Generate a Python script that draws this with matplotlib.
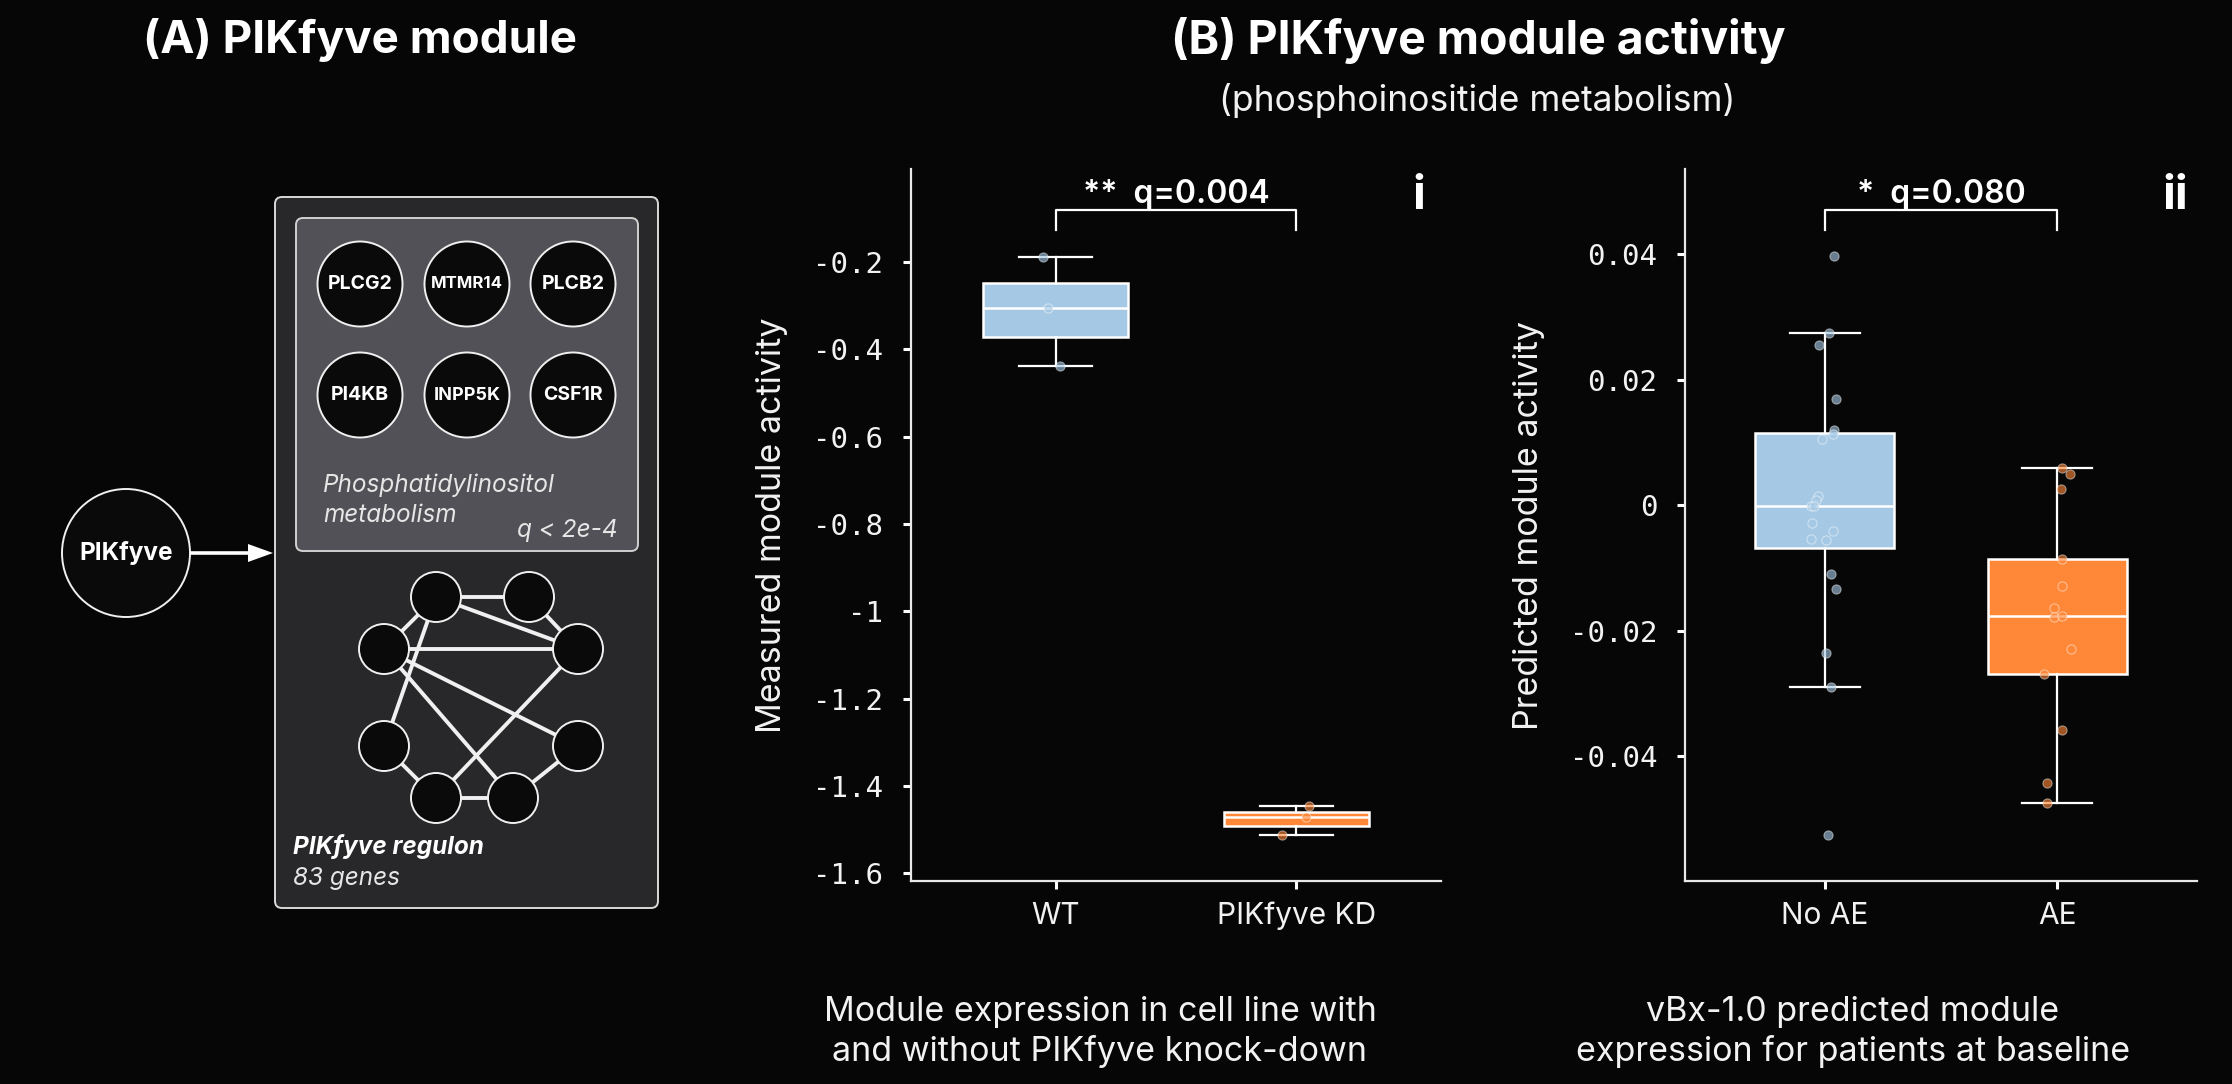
import matplotlib
matplotlib.use("Agg")
import matplotlib.pyplot as plt
from matplotlib.patches import Circle, FancyBboxPatch, Polygon
from matplotlib.ticker import FixedLocator, FuncFormatter

# ---------------- data ----------------
panel_i_categories = ["WT", "PIKfyve KD"]
wt_values = [-0.189, -0.305, -0.438]
wt_jitter = [-0.054, -0.030, 0.017]
kd_values = [-1.447, -1.471, -1.513]
kd_jitter = [0.050, 0.039, -0.060]
panel_i_ticks = [-1.6, -1.4, -1.2, -1.0, -0.8, -0.6, -0.4, -0.2]
panel_i_stat = "**  q=0.004"

panel_ii_categories = ["No AE", "AE"]
noae_values = [0.0397, 0.0275, 0.0255, 0.0169, 0.0120, 0.0113, 0.0106, 0.00147,
               0.00085, -0.0002, -0.0001, -0.00286, -0.00418, -0.00534, -0.0055,
               -0.0110, -0.0133, -0.0235, -0.0289, -0.0526]
noae_jitter = [0.042, 0.018, -0.024, 0.050, 0.042, 0.038, -0.010, -0.028,
               -0.038, -0.058, -0.046, -0.054, 0.038, -0.058, 0.006,
               0.028, 0.050, 0.006, 0.028, 0.014]
ae_values = [0.00596, 0.00503, 0.00263, -0.00851, -0.01284, -0.01640, -0.01780,
             -0.01764, -0.02298, -0.02685, -0.03575, -0.04425, -0.04743]
ae_jitter = [0.018, 0.054, 0.014, 0.018, 0.018, -0.016, -0.016,
             0.022, 0.058, -0.056, 0.022, -0.046, -0.046]
panel_ii_ticks = [-0.04, -0.02, 0.0, 0.02, 0.04]
panel_ii_stat = "*  q=0.080"

module_genes = ["PLCG2", "MTMR14", "PLCB2", "PI4KB", "INPP5K", "CSF1R"]

# ---------------- style ----------------
W, H = 2232, 1084
DPI = 100
BG = "#060606"
FG = "#f2f2f2"
BLUE = "#a5c8e4"
ORANGE = "#ff8838"
SANS = ["Inter", "DejaVu Sans"]
MONO = ["DejaVu Sans Mono"]
plt.rcParams["font.family"] = SANS
plt.rcParams["axes.unicode_minus"] = False

fig = plt.figure(figsize=(W / DPI, H / DPI), dpi=DPI, facecolor=BG)


def rect(x0, y0, x1, y1):
    return [x0 / W, 1 - y1 / H, (x1 - x0) / W, (y1 - y0) / H]


# ---------------- panel A (diagram, pixel coordinates) ----------------
axA = fig.add_axes([0, 0, 1, 1])
axA.set_xlim(0, W)
axA.set_ylim(H, 0)
axA.axis("off")
axA.set_zorder(0)

axA.add_patch(FancyBboxPatch((275, 197), 383, 711, boxstyle="round,pad=0,rounding_size=7",
                             fc="#28282a", ec="#d8d8d8", lw=1.4))
axA.add_patch(FancyBboxPatch((296, 218), 342, 333, boxstyle="round,pad=0,rounding_size=7",
                             fc="#515157", ec="#d0d0d0", lw=1.4))

gene_xy = [(360, 284), (467, 284), (573, 284), (360, 395), (467, 395), (573, 395)]
gene_fs = [14, 12, 14, 14, 13, 14]
for (cx, cy), g, fs in zip(gene_xy, module_genes, gene_fs):
    axA.add_patch(Circle((cx, cy), 42.5, fc="#0a0a0a", ec="#f0f0f0", lw=1.4))
    axA.text(cx, cy, g, color="white", fontsize=fs, fontweight="bold",
             ha="center", va="center")

axA.text(323, 485, "Phosphatidylinositol", color="#e6e6e6", fontsize=17.5,
         style="italic", ha="left", va="center")
axA.text(323, 516, "metabolism", color="#e6e6e6", fontsize=17.5,
         style="italic", ha="left", va="center")
axA.text(618, 530, "q < 2e-4", color="#e6e6e6", fontsize=17.5, style="italic",
         ha="right", va="center")

# PIKfyve node and arrow
axA.add_patch(Circle((126, 553), 64, fc="#0a0a0a", ec="#f0f0f0", lw=1.4))
axA.text(126, 553, "PIKfyve", color="white", fontsize=17.5, fontweight="bold",
         ha="center", va="center")
axA.plot([190, 250], [553, 553], color="white", lw=2.6, solid_capstyle="butt")
axA.add_patch(Polygon([[248, 544], [273, 553], [248, 562]], closed=True, fc="white", ec="none"))

# network
nodes = [(436, 597), (529, 597), (384, 649), (578, 649),
         (384, 746), (578, 746), (436, 798), (513, 798)]
edges = [(0, 1), (1, 3), (0, 3), (0, 2), (2, 3), (0, 4), (2, 5), (2, 7),
         (3, 6), (4, 6), (6, 7), (7, 5)]
for a, b in edges:
    axA.plot([nodes[a][0], nodes[b][0]], [nodes[a][1], nodes[b][1]],
             color="#f0f0f0", lw=2.8, zorder=2)
for (cx, cy) in nodes:
    axA.add_patch(Circle((cx, cy), 25, fc="#0a0a0a", ec="#f0f0f0", lw=1.4, zorder=3))

axA.text(293, 847, "PIKfyve regulon", color="white", fontsize=17.5, fontweight="bold",
         style="italic", ha="left", va="center")
axA.text(293, 879, "83 genes", color="#e6e6e6", fontsize=17.5, style="italic",
         ha="left", va="center")

# titles
fig.text(360 / W, 1 - 40 / H, "(A) PIKfyve module", color="white", fontsize=33,
         fontweight="bold", ha="center", va="center")
fig.text(1478 / W, 1 - 40 / H, "(B) PIKfyve module activity", color="white", fontsize=33.4,
         fontweight="bold", ha="center", va="center")
fig.text(1477 / W, 1 - 100 / H, "(phosphoinositide metabolism)", color=FG, fontsize=25.5,
         ha="center", va="center")


# ---------------- box panels ----------------
def fmt(v, pos):
    return "%g" % round(v, 6)


def box_panel(ax, groups, jitters, colors, cats, ticks, ylim, ylabel, label_x, stat, stat_y,
              panel_tag):
    ax.set_facecolor("none")
    bp = ax.boxplot(groups, positions=[0, 1], widths=0.6, patch_artist=True,
                    showfliers=False, whis=1.5, capwidths=0.3,
                    boxprops=dict(edgecolor="white", linewidth=1.8),
                    medianprops=dict(color="white", linewidth=1.8),
                    whiskerprops=dict(color="white", linewidth=1.6),
                    capprops=dict(color="white", linewidth=1.6))
    for patch, c in zip(bp["boxes"], colors):
        patch.set_facecolor(c)
    for i, (vals, jit, c) in enumerate(zip(groups, jitters, colors)):
        ax.scatter([i + j for j in jit], vals, s=44, facecolor=matplotlib.colors.to_rgba(c, 0.62),
                   edgecolor=(1, 1, 1, 0.45), linewidth=0.8, zorder=5)
    ax.set_xlim(-0.6, 1.6)
    ax.set_ylim(*ylim)
    ax.set_xticks([0, 1])
    ax.set_xticklabels(cats, fontsize=21.5, color=FG)
    ax.yaxis.set_major_locator(FixedLocator(ticks))
    ax.yaxis.set_major_formatter(FuncFormatter(fmt))
    ax.tick_params(axis="y", labelsize=21, labelcolor=FG, color="white", length=6,
                   width=2.2, pad=14)
    ax.tick_params(axis="x", color="white", length=6, width=2.2, pad=9)
    for lab in ax.get_yticklabels():
        lab.set_fontfamily(MONO)
    for s in ["top", "right"]:
        ax.spines[s].set_visible(False)
    for s in ["left", "bottom"]:
        ax.spines[s].set_color("#e8e8e8")
        ax.spines[s].set_linewidth(1.6)
    ax.set_ylabel(ylabel, fontsize=24.5, color=FG)
    ax.yaxis.set_label_coords(label_x, 0.5)
    y_hi, y_lo = stat_y
    ax.plot([0, 0, 1, 1], [y_lo, y_hi, y_hi, y_lo], color="white", lw=1.6, clip_on=False)
    ax.text(0.5, y_hi, stat, color="white", fontsize=23, fontweight="semibold",
            ha="center", va="bottom")
    ax.text(0.958, 0.96, panel_tag, transform=ax.transAxes, color="white", fontsize=34,
            fontweight="bold", ha="center", va="center")


ax1 = fig.add_axes(rect(911, 169, 1441, 881))
box_panel(ax1, [wt_values, kd_values], [wt_jitter, kd_jitter], [BLUE, ORANGE],
          panel_i_categories, panel_i_ticks, (-1.618, 0.013), "Measured module activity",
          -0.232, panel_i_stat, (-0.08, -0.127), "i")

ax2 = fig.add_axes(rect(1685, 169, 2197, 881))
box_panel(ax2, [noae_values, ae_values], [noae_jitter, ae_jitter], [BLUE, ORANGE],
          panel_ii_categories, panel_ii_ticks, (-0.0599, 0.0536), "Predicted module activity",
          -0.273, panel_ii_stat, (0.0471, 0.0439), "ii")

fig.text(1100 / W, 1 - 1032 / H, "Module expression in cell line with\nand without PIKfyve knock-down",
         color=FG, fontsize=24.5, ha="center", va="center", linespacing=1.25)
fig.text(1853 / W, 1 - 1032 / H, "vBx-1.0 predicted module\nexpression for patients at baseline",
         color=FG, fontsize=24.5, ha="center", va="center", linespacing=1.25)

fig.savefig("out.png", dpi=DPI, facecolor=BG)
